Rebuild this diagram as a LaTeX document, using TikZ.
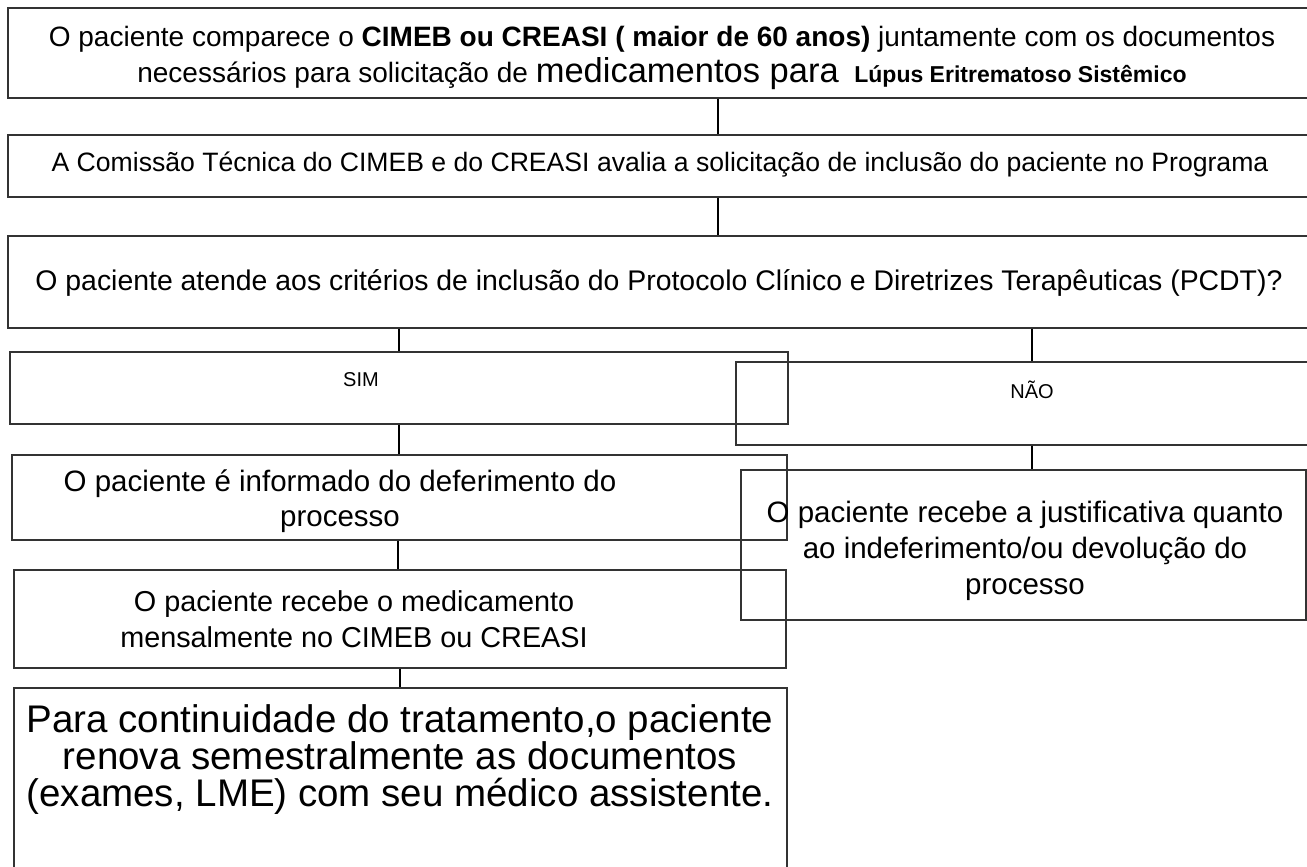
\documentclass[tikz,border=0pt]{standalone}
\usepackage{fontspec}
\setmainfont{Liberation Sans}
\begin{document}
\begin{tikzpicture}[x=1pt,y=-1pt,
  box/.style={draw=black!80,line width=1.4pt,rectangle,inner sep=0pt},
  conn/.style={draw=black,line width=1.4pt},
  txt/.style={align=center,inner sep=0pt,text=black}]
\useasboundingbox (0,0) rectangle (1307,867);
% boxes
\node[box,minimum width=1312pt,minimum height=90pt] (b1) at (664,53) {};
\node[box,minimum width=1312pt,minimum height=62pt] (b2) at (664,166) {};
\node[box,minimum width=1312pt,minimum height=92pt] (b3) at (664,282) {};
\node[box,minimum width=778pt,minimum height=72pt] (sim) at (399,388) {};
\node[box,minimum width=584pt,minimum height=83pt] (nao) at (1028,403.5) {};
\node[box,minimum width=775pt,minimum height=85pt] (inf) at (399.5,497.5) {};
\node[box,minimum width=772pt,minimum height=98pt] (rec) at (400,619) {};
\node[box,minimum width=773pt,minimum height=192pt] (para) at (400.5,784) {};
\node[box,minimum width=565pt,minimum height=150pt] (nc) at (1023.5,545) {};
% connector columns
\coordinate (cA) at (718,0);
\coordinate (cB) at (399,0);
\coordinate (cC) at (1032,0);
\coordinate (cD) at (398,0);
\coordinate (cE) at (400,0);
\draw[conn] (b1.south -| cA) -- (b2.north -| cA);
\draw[conn] (b2.south -| cA) -- (b3.north -| cA);
\draw[conn] (b3.south -| cB) -- (sim.north -| cB);
\draw[conn] (b3.south -| cC) -- (nao.north -| cC);
\draw[conn] (sim.south -| cB) -- (inf.north -| cB);
\draw[conn] (nao.south -| cC) -- (nc.north -| cC);
\draw[conn] (inf.south -| cD) -- (rec.north -| cD);
\draw[conn] (rec.south -| cE) -- (para.north -| cE);
% texts
\node[txt,font=\fontsize{28}{36}\selectfont] (t1) at (662,57.5) {O paciente comparece o \textbf{CIMEB ou CREASI ( maior de 60 anos)} juntamente com os documentos\\
necessários para solicitação de {\fontsize{34.5}{36}\selectfont medicamentos para} \ {\fontsize{23}{36}\selectfont\bfseries Lúpus Eritrematoso Sistêmico}};
\node[txt,font=\fontsize{26.6}{32}\selectfont] (t2) at (660,165) {A Comissão Técnica do CIMEB e do CREASI avalia a solicitação de inclusão do paciente no Programa};
\node[txt,font=\fontsize{28.4}{32}\selectfont] (t3) at (659,283) {O paciente atende aos critérios de inclusão do Protocolo Clínico e Diretrizes Terapêuticas (PCDT)?};
\node[txt,font=\fontsize{20}{24}\selectfont] (t4) at (361,380) {SIM};
\node[txt,font=\fontsize{20}{24}\selectfont] (t5) at (1032,390) {NÃO};
\node[txt,font=\fontsize{29.5}{35.5}\selectfont] (t6) at (340,501) {O paciente é informado do deferimento do\\ processo};
\node[txt,font=\fontsize{28.8}{35.5}\selectfont] (t7) at (354,619) {O paciente recebe o medicamento\\ mensalmente no CIMEB ou CREASI};
\node[txt,font=\fontsize{38.5}{37}\selectfont] (t8) at (400,760) {Para continuidade do tratamento,o paciente\\ renova semestralmente as documentos\\ (exames, LME) com seu médico assistente.};
\node[txt,font=\fontsize{29.5}{36}\selectfont] (t9) at (1025,551) {O paciente recebe a justificativa quanto\\ ao indeferimento/ou devolução do\\ processo};
\end{tikzpicture}
\end{document}
